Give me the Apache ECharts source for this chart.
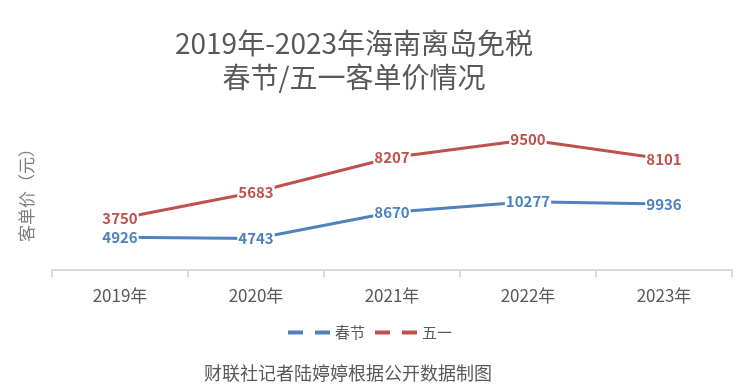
<!DOCTYPE html>
<html><head><meta charset="utf-8">
<script src="https://cdn.jsdelivr.net/npm/echarts@6/dist/echarts.min.js"></script>
<style>html,body{margin:0;padding:0;background:#fff}#c{width:740px;height:392px}</style>
</head><body><div id="c"></div>
<script>
const categories = ['2019年','2020年','2021年','2022年','2023年'];
const chunjie = [4926, 4743, 8670, 10277, 9936];
const wuyi = [3750, 5683, 8207, 9500, 8101];
const seriesNames = ['春节','五一'];

const chart = echarts.init(document.getElementById('c'));
const font = '"Noto Sans CJK SC", "Noto Sans", sans-serif';
const lbl = (color) => ({
  show: true, position: 'inside', color: color, fontWeight: 'bold', fontSize: 15,
  fontFamily: font, backgroundColor: '#fff', padding: [0, 1]
});
chart.setOption({
  animation: false,
  graphic: [
    { type: 'text', x: 354, y: 26,
      style: { text: '2019年-2023年海南离岛免税\n春节/五一客单价情况', fill: '#595959', fontSize: 28,
        fontFamily: font, lineHeight: 34, textAlign: 'center', textVerticalAlign: 'top' } },
    { type: 'text', x: 348, y: 373,
      style: { text: '财联社记者陆婷婷根据公开数据制图', fill: '#595959', fontSize: 18, fontFamily: font,
        textAlign: 'center', textVerticalAlign: 'middle' } },
    { type: 'text', rotation: Math.PI / 2, x: 18, y: 242,
      style: { text: '客单价（元）', fill: '#7f7f7f', fontSize: 17, fontFamily: font } }
  ],
  legend: {
    data: seriesNames, left: 'center', top: 320, itemWidth: 42, itemHeight: 4, itemGap: 10,
    icon: 'path://M0,0H15V4H0Z M27,0H42V4H27Z',
    textStyle: { color: '#595959', fontSize: 15, fontFamily: font }
  },
  grid: { left: 52, right: 8, top: 137, bottom: 122 },
  xAxis: {
    type: 'category', data: categories, boundaryGap: true,
    axisLine: { lineStyle: { color: '#d9d9d9', width: 2 } },
    axisTick: { show: true, length: 7, lineStyle: { color: '#d9d9d9', width: 2 } },
    axisLabel: { color: '#595959', fontSize: 17, fontFamily: font, margin: 17 }
  },
  yAxis: [
    { type: 'value', min: 0, max: 20000, show: false, splitLine: { show: false } },
    { type: 'value', min: 0, max: 9700, show: false, splitLine: { show: false } }
  ],
  series: [
    { name: seriesNames[0], type: 'line', yAxisIndex: 0, data: chunjie, symbol: 'circle', symbolSize: 0.01,
      showSymbol: true,
      lineStyle: { color: '#4f81bd', width: 3 }, itemStyle: { color: '#4f81bd' }, label: lbl('#4f81bd') },
    { name: seriesNames[1], type: 'line', yAxisIndex: 1, data: wuyi, symbol: 'circle', symbolSize: 0.01,
      showSymbol: true,
      lineStyle: { color: '#c0504d', width: 3 }, itemStyle: { color: '#c0504d' }, label: lbl('#c0504d') }
  ]
});
</script></body></html>
